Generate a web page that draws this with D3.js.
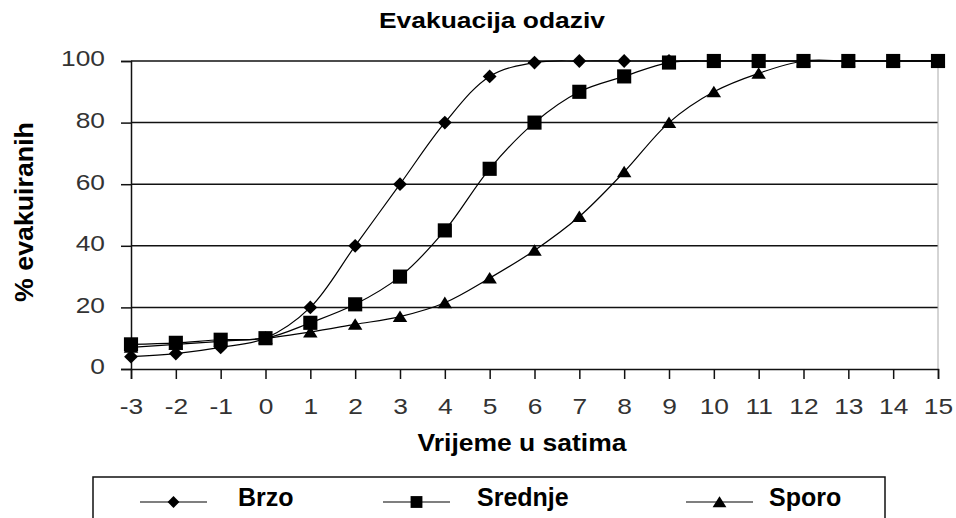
<!DOCTYPE html>
<html>
<head>
<meta charset="utf-8">
<script src="https://cdn.jsdelivr.net/npm/d3@7"></script>
<style>
    body { margin: 0; background: #fff; overflow: hidden; }
    text { font-family: 'Liberation Sans', Arial, sans-serif; }
</style>
</head>
<body>
<svg id="main-svg" width="956" height="518"></svg>
<script>
'use strict';

// hours, -3 .. 15
const hours = [-3, -2, -1, 0, 1, 2, 3, 4, 5, 6, 7, 8, 9, 10, 11, 12, 13, 14, 15];
const brzo = [4, 5, 7, 10, 20, 40, 60, 80, 95, 99.5, 100, 100, 100, 100, 100, 100, 100, 100, 100];
const srednje = [8, 8.5, 9.5, 10, 15, 21, 30, 45, 65, 80, 90, 95, 99.5, 100, 100, 100, 100, 100, 100];
const sporo = [7, 8, 9, 10, 12, 14.5, 17, 21.5, 29.5, 38.5, 49.5, 64, 80, 90, 96, 100, 100, 100, 100];
const y_ticks = [0, 20, 40, 60, 80, 100];
const series_names = ['Brzo', 'Srednje', 'Sporo'];

const title = 'Evakuacija odaziv';
const x_title = 'Vrijeme u satima';
const y_title = '% evakuiranih';

const svg = d3.select('#main-svg');

const plot_left = 131, plot_right = 938, plot_top = 61, plot_bottom = 369;

const x = d3.scaleLinear().domain([-3, 15]).range([plot_left, plot_right]);
const y = d3.scaleLinear().domain([0, 100]).range([plot_bottom, plot_top]);

// the picture is a bit wider than the font, so stretch text sideways
const stretch = (sel, k) => {
    sel.each(function () {
        const w = this.getComputedTextLength();
        d3.select(this)
            .attr('textLength', w * k)
            .attr('lengthAdjust', 'spacingAndGlyphs');
    });
};

// marker shapes, like the excel ones
const diamond = {
    draw: (ctx, size) => {
        const r = Math.sqrt(size) / 2;
        ctx.moveTo(0, -r); ctx.lineTo(r, 0); ctx.lineTo(0, r); ctx.lineTo(-r, 0); ctx.closePath();
    }
};
const square = {
    draw: (ctx, size) => {
        const r = Math.sqrt(size) / 2;
        ctx.rect(-r, -r, 2 * r, 2 * r);
    }
};
const triangle = {
    draw: (ctx, size) => {
        const r = Math.sqrt(size) / 2;
        ctx.moveTo(0, -r * 0.85); ctx.lineTo(r, r * 0.75); ctx.lineTo(-r, r * 0.75); ctx.closePath();
    }
};

// gridlines
svg.append('g').selectAll('line')
    .data(y_ticks.filter(d => d > 0))
    .enter().append('line')
    .attr('x1', plot_left).attr('x2', plot_right)
    .attr('y1', d => y(d)).attr('y2', d => y(d))
    .attr('stroke', '#111')
    .attr('stroke-width', 1.5);

// light border on the right
svg.append('line')
    .attr('x1', plot_right).attr('x2', plot_right)
    .attr('y1', plot_top).attr('y2', plot_bottom)
    .attr('stroke', '#aaa');

// axes
const y_axis = svg.append('g')
    .attr('transform', `translate(${plot_left},0)`)
    .call(d3.axisLeft(y).tickValues(y_ticks).tickSize(10).tickPadding(16));

const x_axis = svg.append('g')
    .attr('transform', `translate(0,${plot_bottom})`)
    .call(d3.axisBottom(x).tickValues(hours).tickSize(10).tickPadding(19).tickFormat(d => String(d)));

[y_axis, x_axis].forEach(ax => {
    ax.select('.domain').attr('stroke', '#111').attr('stroke-width', 1.5);
    ax.selectAll('.tick line').attr('stroke', '#111').attr('stroke-width', 1.5);
    ax.selectAll('.tick text')
        .attr('fill', '#333')
        .style('font-size', '22.5px')
        .style('font-family', "'Liberation Sans', Arial, sans-serif")
        .call(stretch, 1.17);
});
y_axis.selectAll('.tick text').attr('dy', '0.22em');
x_axis.selectAll('.tick text').attr('dy', '0.71em');

// series
const series = [
    {name: series_names[0], values: brzo, shape: diamond, size: 190},
    {name: series_names[2], values: sporo, shape: triangle, size: 210},
    {name: series_names[1], values: srednje, shape: square, size: 200},
];

const line = d3.line()
    .x((d, i) => x(hours[i]))
    .y(d => y(d))
    .curve(d3.curveCatmullRom.alpha(0.5));

series.forEach(s => {
    const g = svg.append('g');
    g.append('path')
        .attr('d', line(s.values))
        .attr('fill', 'none')
        .attr('stroke', '#000')
        .attr('stroke-width', 1.2);
    g.selectAll('path.marker')
        .data(s.values)
        .enter().append('path')
        .attr('class', 'marker')
        .attr('d', d3.symbol().type(s.shape).size(s.size))
        .attr('transform', (d, i) => `translate(${x(hours[i])},${y(d)})`)
        .attr('fill', '#000');
});

// titles
svg.append('text')
    .attr('x', 492).attr('y', 28)
    .attr('text-anchor', 'middle')
    .style('font-size', '22px').style('font-weight', 'bold')
    .text(title)
    .call(stretch, 1.2);

svg.append('text')
    .attr('x', 522).attr('y', 451)
    .attr('text-anchor', 'middle')
    .style('font-size', '23px').style('font-weight', 'bold')
    .text(x_title)
    .call(stretch, 1.15);

svg.append('text')
    .attr('transform', 'translate(33,212) rotate(-90)')
    .attr('text-anchor', 'middle')
    .style('font-size', '25px').style('font-weight', 'bold')
    .text(y_title)
    .call(stretch, 1.07);

// legend
const legend = svg.append('g');
legend.append('rect')
    .attr('x', 93).attr('y', 477)
    .attr('width', 792).attr('height', 80)
    .attr('fill', 'none')
    .attr('stroke', '#111')
    .attr('stroke-width', 1.5);

const legend_items = [
    {name: series_names[0], shape: diamond, size: 140, x1: 140, x2: 207, tx: 238},
    {name: series_names[1], shape: square, size: 140, x1: 383, x2: 450, tx: 477},
    {name: series_names[2], shape: triangle, size: 190, x1: 686, x2: 753, tx: 769},
];

legend_items.forEach(it => {
    legend.append('line')
        .attr('x1', it.x1).attr('x2', it.x2)
        .attr('y1', 502).attr('y2', 502)
        .attr('stroke', '#000').attr('stroke-width', 1.2);
    legend.append('path')
        .attr('d', d3.symbol().type(it.shape).size(it.size))
        .attr('transform', `translate(${(it.x1 + it.x2) / 2},502)`)
        .attr('fill', '#000');
    legend.append('text')
        .attr('x', it.tx).attr('y', 506)
        .style('font-size', '25px').style('font-weight', 'bold')
        .text(it.name);
});
</script>
</body>
</html>
